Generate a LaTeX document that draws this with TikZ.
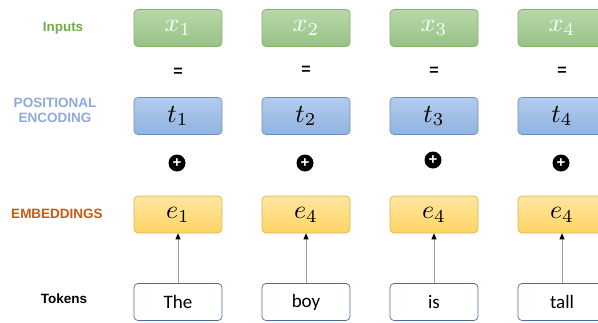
\documentclass[tikz,border=0pt]{standalone}
\usepackage{fontspec}
\setmainfont{Liberation Sans}
\newfontfamily\tokfont{Carlito}
\usepackage{amsmath}
\usepackage{graphicx}
\usepackage{xcolor}
\usetikzlibrary{arrows.meta,positioning}
\definecolor{inpgreen}{RGB}{112,173,71}
\definecolor{inptop}{RGB}{184,216,170}
\definecolor{inpbot}{RGB}{151,194,131}
\definecolor{inpline}{RGB}{130,179,102}
\definecolor{posblue}{RGB}{142,169,219}
\definecolor{postop}{RGB}{178,204,237}
\definecolor{posbot}{RGB}{143,179,225}
\definecolor{posline}{RGB}{108,142,191}
\definecolor{embtop}{RGB}{255,230,160}
\definecolor{embbot}{RGB}{255,212,100}
\definecolor{embline}{RGB}{214,182,86}
\definecolor{embtxt}{RGB}{197,90,17}
\definecolor{tokline}{RGB}{74,110,151}
\newcommand{\bigvar}[1]{{\normalsize\scalebox{2.6}{$#1$}}}

\begin{document}
\begin{tikzpicture}[
      x=1pt, y=-1pt,
      cell/.style   = {rounded corners=4pt, minimum width=88pt, minimum height=37pt,
                       inner sep=0pt, line width=0.7pt},
      inbox/.style  = {cell, draw=inpline, top color=inptop, bottom color=inpbot, text=white},
      posbox/.style = {cell, draw=posline, top color=postop, bottom color=posbot},
      embbox/.style = {cell, draw=embline, top color=embtop, bottom color=embbot},
      tokbox/.style = {cell, draw=tokline, fill=white, font=\tokfont\fontsize{19}{21}\selectfont},
      lbl/.style    = {font=\bfseries\fontsize{13.5}{15}\selectfont, align=center},
      eq/.style     = {font=\bfseries\fontsize{16}{16}\selectfont},
      plus/.style   = {circle, fill=black, minimum size=17pt, inner sep=0pt, text=white,
                       font=\bfseries\fontsize{15}{15}\selectfont},
      arr/.style    = {-{Triangle[length=6pt,width=5pt,black]}, draw=gray!75, line width=0.8pt},
    ]
    \useasboundingbox (0,0) rectangle (598,322);
    \clip (0,0) rectangle (598,322);

    \node[lbl, text=inpgreen] (linp) at (63,28)  {Inputs};
    \node[lbl, text=posblue]  (lpos) at (55,110) {POSITIONAL\\ENCODING};
    \node[lbl, text=embtxt]   (lemb) at (57,214) {EMBEDDINGS};
    \node[lbl]                (ltok) at (64,299) {Tokens};

    \foreach \i/\x/\e/\w/\qy/\py in {1/178/1/The/72/163, 2/306/4/boy/70/163,
                                     3/434/4/is/71/160, 4/562/4/tall/71/163} {
      \node[inbox]  (inp\i) at (\x,28)    {\bigvar{x_{\i}}};
      \node[eq]     (eq\i)  at (\x,\qy)   {=};
      \node[posbox] (pos\i) at (\x,116)   {\bigvar{t_{\i}}};
      \node[plus]   (pl\i)  at (\x-1,\py) {+};
      \node[embbox] (emb\i) at (\x,214.5) {\bigvar{e_{\e}}};
      \node[tokbox] (tok\i) at (\x,302)   {\w};
      \draw[arr] (tok\i) -- (emb\i);
    }
  \end{tikzpicture}
\end{document}
